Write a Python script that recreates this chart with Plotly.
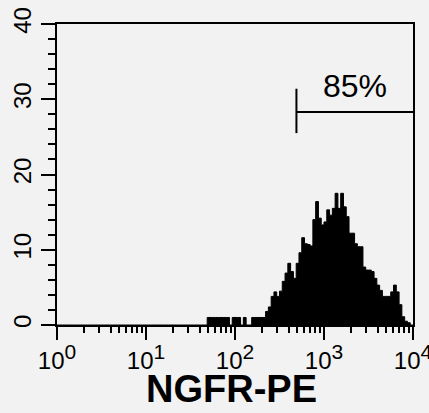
import numpy as np
import plotly.graph_objects as go

# Histogram: 128 log-spaced channels over 10^0 .. 10^4
n_channels = 128
decades = 4
counts = [0.0] * 54 + [
    1, 1, 1, 1, 1, 1, 1, 1, 0, 1, 1, 1, 0, 1, 0, 0, 1, 1, 1, 1, 1,      # 54-74
    1.8, 2.4, 3.8, 4.4, 3.8, 4.5, 5.8, 6.9, 8.2, 7.1, 6.2, 8.2, 9.6,   # 75-87
    11.6, 10.8, 10.7, 10.5, 14.0, 16.4, 14.2, 13.3, 13.7, 15.3, 14.6,  # 88-98
    15.5, 17.5, 15.5, 17.5, 15.7, 14.4, 12.2, 12.2, 10.8, 10.4, 10.4,  # 99-109
    7.7, 7.3, 7.3, 7.1, 6.2, 5.3, 4.6, 3.8, 3.8, 3.8, 4.4, 5.3, 4.4,   # 110-122
    2.7, 1.1, 0.5, 0.3, 0.0                                            # 123-127
]

# Gate
gate_low = 490
gate_high = 10000
gate_level = 28.3
gate_tick_top = 31.4
gate_tick_bottom = 25.5
gate_label = "85%"
gate_label_x = 2220
gate_label_y = 31.7

x_tickvals = [1, 10, 100, 1000, 10000]
x_exponents = ["0", "1", "2", "3", "4"]
y_tickvals = [0, 10, 20, 30, 40]
x_title = "NGFR-PE"

x_ticktext = ["10<sup><span style='font-size:21px'>%s</span></sup>" % e for e in x_exponents]
edges = [10 ** (i * decades / n_channels) for i in range(n_channels + 1)]
ys = list(counts) + [counts[-1]]

bg = "#f2f2f2"
narrow = "Liberation Sans Narrow, Liberation Sans, Arial, sans-serif"

fig = go.Figure()
fig.add_trace(go.Scatter(
    x=edges, y=ys, mode="lines", line_shape="hv",
    line=dict(color="black", width=1), fill="tozeroy", fillcolor="black",
    hoverinfo="skip", showlegend=False,
))

line_style = dict(color="black", width=2)
fig.add_shape(type="line", xref="x", yref="y", x0=gate_low, x1=gate_low,
              y0=gate_tick_bottom, y1=gate_tick_top, line=line_style)
fig.add_shape(type="line", xref="x", yref="y", x0=gate_low, x1=gate_high,
              y0=gate_level, y1=gate_level, line=line_style)
fig.add_annotation(x=np.log10(gate_label_x), y=gate_label_y, xref="x", yref="y",
                   text=gate_label, showarrow=False,
                   font=dict(family=narrow, size=32, color="black"))

# Axis title as a paper-positioned label
fig.add_annotation(x=0.489, y=-0.29, xref="paper", yref="paper",
                   xanchor="center", yanchor="bottom", showarrow=False,
                   text="<b>%s</b>" % x_title,
                   font=dict(family="Liberation Sans, Arial, sans-serif",
                             size=38, color="black"))

fig.update_layout(
    width=429, height=413,
    margin=dict(l=57, r=16, t=24, b=88),
    paper_bgcolor=bg, plot_bgcolor=bg,
    showlegend=False,
)
fig.update_xaxes(
    type="log", range=[0, 4], automargin=False,
    tickvals=x_tickvals, ticktext=x_ticktext, ticklabeloverflow="allow",
    ticks="outside", ticklen=13, tickwidth=2, tickcolor="black",
    minor=dict(ticks="outside", ticklen=6, tickwidth=2, tickcolor="black",
               dtick="D1", showgrid=False),
    showline=True, linecolor="black", linewidth=2, mirror=True,
    showgrid=False, zeroline=False,
    tickfont=dict(family=narrow, size=24, color="black"),
)
fig.update_yaxes(
    range=[0, 40], tickvals=y_tickvals, tickangle=-90, automargin=False,
    ticks="outside", ticklen=14, tickwidth=2, tickcolor="black",
    minor=dict(ticks="outside", ticklen=7, tickwidth=2, tickcolor="black",
               dtick=2, showgrid=False),
    showline=True, linecolor="black", linewidth=2, mirror=True,
    showgrid=False, zeroline=False,
    tickfont=dict(family=narrow, size=24, color="black"),
)

fig.write_html("out.html")
